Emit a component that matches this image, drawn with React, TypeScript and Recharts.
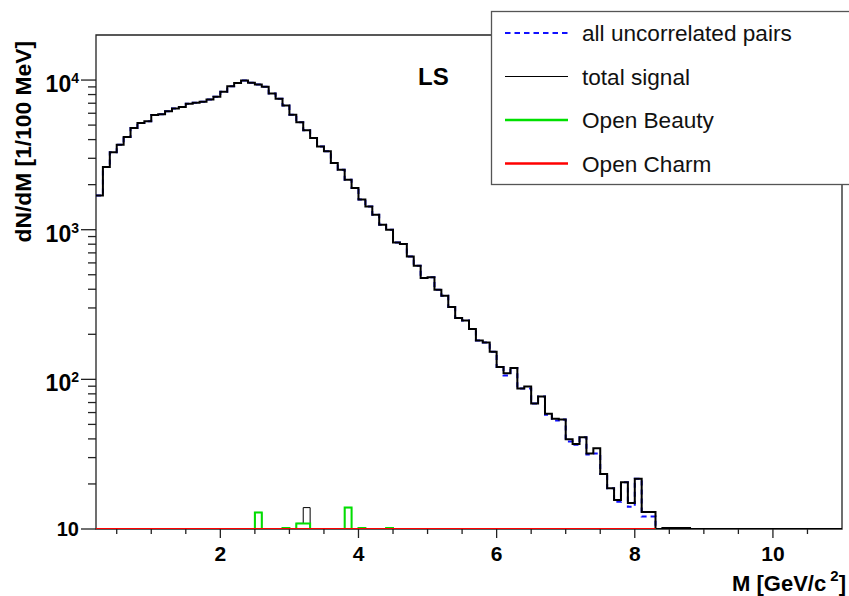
import React from 'react';
import { ComposedChart, Line, XAxis, YAxis, ReferenceArea } from 'recharts';

// bin low edges in GeV/c^2 (0.1 GeV bins), last entry closes the final bin
const massEdges = [
  0.2, 0.3, 0.4, 0.5, 0.6, 0.7, 0.8, 0.9, 1.0, 1.1,
  1.2, 1.3, 1.4, 1.5, 1.6, 1.7, 1.8, 1.9, 2.0, 2.1,
  2.2, 2.3, 2.4, 2.5, 2.6, 2.7, 2.8, 2.9, 3.0, 3.1,
  3.2, 3.3, 3.4, 3.5, 3.6, 3.7, 3.8, 3.9, 4.0, 4.1,
  4.2, 4.3, 4.4, 4.5, 4.6, 4.7, 4.8, 4.9, 5.0, 5.1,
  5.2, 5.3, 5.4, 5.5, 5.6, 5.7, 5.8, 5.9, 6.0, 6.1,
  6.2, 6.3, 6.4, 6.5, 6.6, 6.7, 6.8, 6.9, 7.0, 7.1,
  7.2, 7.3, 7.4, 7.5, 7.6, 7.7, 7.8, 7.9, 8.0, 8.1,
  8.2, 8.3, 8.4, 8.5, 8.6, 8.7, 8.8, 8.9, 9.0, 9.1,
  9.2, 9.3, 9.4, 9.5, 9.6, 9.7, 9.8, 9.9, 10.0, 10.1,
  10.2, 10.3, 10.4, 10.5, 10.6, 10.7, 10.8, 10.9, 11.0,
];

// total (thick black)
const totalPairs = [
  1690, 2620, 3290, 3700, 4170, 4790, 5170, 5300, 5850, 5900,
  6180, 6450, 6600, 6950, 7050, 7150, 7410, 7730, 8340, 9100,
  9570, 9930, 9600, 9330, 9010, 8130, 7490, 6750, 5870, 5230,
  4620, 4100, 3600, 3340, 2790, 2520, 2160, 1900, 1590, 1430,
  1260, 1080, 1000, 822, 802, 662, 574, 475, 482, 397,
  362, 304, 257, 247, 217, 182, 176, 153, 121, 110,
  119, 87, 89.6, 69, 76.7, 59, 54.5, 54, 39.8, 37,
  41, 32, 34.7, 23.3, 18.7, 15.6, 20.5, 14.9, 21.7, 13.0,
  13.0, 10, 10.15, 10.15, 10.15, 10.15, 10, 10, 10, 10,
  10, 10, 10, 10, 10, 10, 10, 10, 10, 10,
  10, 10, 10, 10, 10, 10, 10, 10,
];

// all uncorrelated pairs (blue dashed)
const uncorrelated = [
  1690, 2620, 3290, 3700, 4170, 4790, 5170, 5300, 5850, 5900,
  6180, 6450, 6600, 6950, 7050, 7150, 7410, 7730, 8340, 9100,
  9570, 9930, 9600, 9330, 9010, 8130, 7490, 6750, 5870, 5230,
  4620, 4100, 3600, 3340, 2790, 2520, 2160, 1900, 1590, 1430,
  1260, 1080, 1000, 822, 802, 662, 574, 475, 482, 397,
  362, 304, 257, 247, 217, 182, 176, 153, 121, 106,
  119, 87, 87, 69, 76.7, 58, 53, 54, 38.5, 36.5,
  41, 31.5, 32, 23.3, 18.7, 15.2, 20.5, 14.1, 21.7, 12.1,
  12.1, 10, 10.1, 10.1, 10.1, 10.1, 10, 10, 10, 10,
  10, 10, 10, 10, 10, 10, 10, 10, 10, 10,
  10, 10, 10, 10, 10, 10, 10, 10,
];

// total signal (thin black), bins 0.2 - 8.2
const totalSignal = [
  10, 10, 10, 10, 10, 10, 10, 10, 10, 10,
  10, 10, 10, 10, 10, 10, 10, 10, 10, 10,
  10, 10, 10, 12.9, 10, 10, 10, 10.15, 10, 10.9,
  13.9, 10, 10, 10, 10, 10, 13.9, 10, 10.15, 10,
  10, 10, 10.15, 10, 10, 10, 10, 10, 10, 10,
  10, 10, 10, 10, 10, 10, 10, 10, 10, 10,
  10, 10, 10, 10, 10, 10, 10, 10, 10, 10,
  10, 10, 10, 10, 10, 10, 10, 10, 10, 10,
  10,
];

const openBeauty = [
  10, 10, 10, 10, 10, 10, 10, 10, 10, 10,
  10, 10, 10, 10, 10, 10, 10, 10, 10, 10,
  10, 10, 10, 12.9, 10, 10, 10, 10.15, 10, 10.9,
  10.9, 10, 10, 10, 10, 10, 13.9, 10, 10.15, 10,
  10, 10, 10.15, 10, 10, 10, 10, 10, 10, 10,
  10, 10, 10, 10, 10, 10, 10, 10, 10, 10,
  10, 10, 10, 10, 10, 10, 10, 10, 10, 10,
  10, 10, 10, 10, 10, 10, 10, 10, 10, 10,
  10,
];

const openCharm = [
  10, 10, 10, 10, 10, 10, 10, 10, 10, 10,
  10, 10, 10, 10, 10, 10, 10, 10, 10, 10,
  10, 10, 10, 10, 10, 10, 10, 10, 10, 10,
  10, 10, 10, 10, 10, 10, 10, 10, 10, 10,
  10, 10, 10, 10, 10, 10, 10, 10, 10, 10,
  10, 10, 10, 10, 10, 10, 10, 10, 10, 10,
  10, 10, 10, 10, 10, 10, 10, 10, 10, 10,
  10, 10, 10, 10, 10, 10, 10, 10, 10, 10,
  10,
];

const xTicks = [0.5, 1, 1.5, 2, 2.5, 3, 3.5, 4, 4.5, 5, 5.5, 6, 6.5, 7, 7.5, 8, 8.5, 9, 9.5, 10, 10.5];
const yTicks = [
  10, 20, 30, 40, 50, 60, 70, 80, 90,
  100, 200, 300, 400, 500, 600, 700, 800, 900,
  1000, 2000, 3000, 4000, 5000, 6000, 7000, 8000, 9000,
  10000,
];

const legendItems = [
  { label: 'all uncorrelated pairs', color: '#1010ff', width: 2, dash: '5.5 4' },
  { label: 'total signal', color: '#000', width: 1, dash: undefined },
  { label: 'Open Beauty', color: '#00e000', width: 2.5, dash: undefined },
  { label: 'Open Charm', color: '#ff0000', width: 2.5, dash: undefined },
];

// histogram as step line: value of bin i repeated at the closing edge
const stepValue = (arr: number[], i: number) =>
  i < arr.length ? arr[i] : i === arr.length ? arr[arr.length - 1] : null;

const rows = massEdges.map((m, i) => ({
  m,
  total: stepValue(totalPairs, i),
  uncorr: stepValue(uncorrelated, i),
  signal: stepValue(totalSignal, i),
  beauty: stepValue(openBeauty, i),
  charm: stepValue(openCharm, i),
}));

const FONT = '"Liberation Sans", Arial, Helvetica, sans-serif';

const YTick = (props: any) => {
  const { x, y, payload } = props;
  const lg = Math.log10(payload.value);
  const exp = Math.round(lg);
  const major = Math.abs(lg - exp) < 1e-6;
  return (
    <g>
      <line x1={x} x2={x - (major ? 15 : 8)} y1={y} y2={y} stroke="#222" strokeWidth={1.3} />
      {major && exp === 1 && (
        <text x={x - 17} y={y + 7} textAnchor="end" fontSize={20} fontWeight="bold" fontFamily={FONT} fill="#000">
          10
        </text>
      )}
      {major && exp > 1 && (
        <text x={x - 17} y={y + 12} textAnchor="end" fontSize={23} fontWeight="bold" fontFamily={FONT} fill="#000">
          10<tspan dy={-9} fontSize={14}>{exp}</tspan>
        </text>
      )}
    </g>
  );
};

const XTick = (props: any) => {
  const { x, y, payload } = props;
  const v = payload.value;
  const major = v % 2 === 0;
  return (
    <g>
      <line x1={x} x2={x} y1={y} y2={y + (major ? 9 : 5)} stroke="#222" strokeWidth={1.3} />
      {major && (
        <text x={x} y={y + 32} textAnchor="middle" fontSize={21} fontWeight="bold" fontFamily={FONT} fill="#000">
          {v}
        </text>
      )}
    </g>
  );
};

export default function App() {
  return (
    <div style={{ position: 'absolute', left: 0, top: 0, width: 849, height: 596, overflow: 'hidden', background: '#fff', fontFamily: FONT }}>
      <ComposedChart width={849} height={596} data={rows} margin={{ top: 35, right: 7, bottom: 0, left: 0 }}>
        <XAxis
          type="number"
          dataKey="m"
          domain={[0.2, 11]}
          allowDataOverflow
          ticks={xTicks}
          interval={0}
          tickSize={0}
          tickMargin={0}
          axisLine={false}
          tickLine={false}
          tick={<XTick />}
          height={67}
        />
        <YAxis
          scale="log"
          domain={[10, 20000]}
          allowDataOverflow
          ticks={yTicks}
          interval={0}
          tickSize={0}
          tickMargin={0}
          axisLine={false}
          tickLine={false}
          tick={<YTick />}
          width={96}
        />
        <ReferenceArea x1={0.2} x2={11} y1={10} y2={20000} fill="none" stroke="#222" strokeWidth={1.3} ifOverflow="visible" />
        <Line type="stepAfter" dataKey="uncorr" stroke="#1010ff" strokeWidth={2} strokeDasharray="5 4" dot={false} isAnimationActive={false} />
        <Line type="stepAfter" dataKey="total" stroke="#000" strokeWidth={2} dot={false} isAnimationActive={false} />
        <Line type="stepAfter" dataKey="signal" stroke="#000" strokeWidth={1} dot={false} isAnimationActive={false} />
        <Line type="stepAfter" dataKey="beauty" stroke="#00e000" strokeWidth={2} dot={false} isAnimationActive={false} />
        <Line type="stepAfter" dataKey="charm" stroke="#ff0000" strokeWidth={2} dot={false} isAnimationActive={false} />
      </ComposedChart>

      <svg width={849} height={596} style={{ position: 'absolute', left: 0, top: 0, pointerEvents: 'none' }}>
        <text x={418} y={85} fontSize={24} fontWeight="bold" fontFamily={FONT} fill="#000">LS</text>
        <text
          transform="translate(31, 41) rotate(-90)"
          textAnchor="end"
          fontSize={22.8}
          fontWeight="bold"
          fontFamily={FONT}
          fill="#000"
        >
          dN/dM [1/100 MeV]
        </text>
        <text x={846} y={591} textAnchor="end" fontSize={22} fontWeight="bold" fontFamily={FONT} fill="#000">
          M [GeV/c<tspan dy={-10} fontSize={15}> 2</tspan><tspan dy={10}>]</tspan>
        </text>

        <rect x={491.5} y={11.5} width={370} height={173} fill="#fff" stroke="#555" strokeWidth={1.3} />
        {legendItems.map((item, i) => {
          const cy = 33 + i * 43.5;
          return (
            <g key={item.label}>
              <line x1={505} x2={568} y1={cy} y2={cy} stroke={item.color} strokeWidth={item.width} strokeDasharray={item.dash} />
              <text x={582} y={cy + 8} fontSize={22.6} fontFamily={FONT} fill="#111">
                {item.label}
              </text>
            </g>
          );
        })}
      </svg>
    </div>
  );
}
